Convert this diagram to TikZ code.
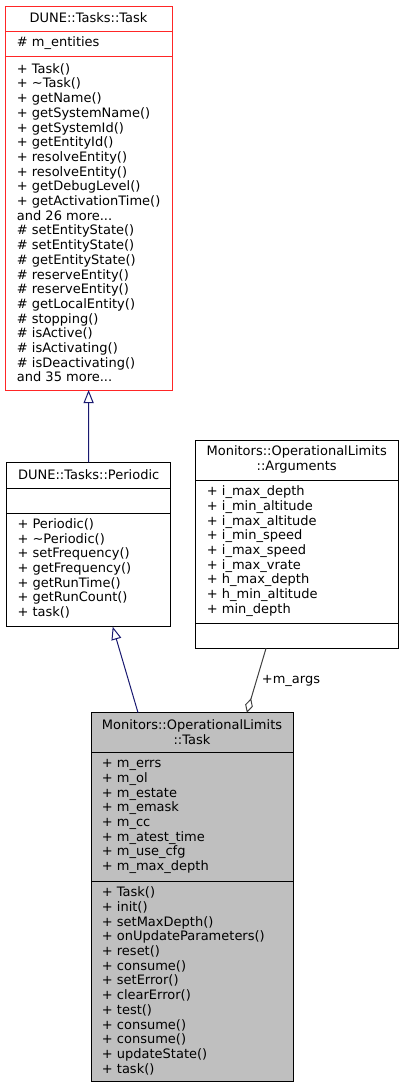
\documentclass[tikz,border=0pt]{standalone}
\usepackage{fontspec}
\setmainfont{DejaVu Sans}
\usepackage{xcolor}
\usetikzlibrary{arrows.meta}
\definecolor{edgeblue}{HTML}{191970}
\definecolor{edgegray}{HTML}{404040}
\definecolor{boxgray}{HTML}{BFBFBF}
\newcommand{\umlfont}{\fontsize{13}{14.7}\selectfont}
\tikzset{
  classbox/.style={rectangle, draw=black, line width=1pt, anchor=north west,
    inner sep=0pt, outer sep=0pt},
  basebox/.style={classbox, draw=red!85!white},
  thisbox/.style={classbox, fill=boxgray},
  sepline/.style={line width=1pt},
  title/.style={align=center, inner sep=0pt, font=\umlfont},
  members/.style={align=left, anchor=west, inner sep=0pt, font=\umlfont},
  edgelabel/.style={inner sep=0pt, text=black, font=\umlfont},
  inherit/.style={-{Triangle[open, length=13pt, width=10pt]}, edgeblue, line width=1pt},
  usage/.style={{Diamond[open, length=15pt, width=8pt]}-, edgegray, line width=1pt}
}

\begin{document}
\begin{tikzpicture}[x=1pt, y=-1pt]
  \useasboundingbox (0,0) rectangle (403,1088);

  % class boxes
  \node[basebox, minimum width=167, minimum height=384] (dunetask) at (5,6) {};
  \node[classbox, minimum width=164, minimum height=164.4] (periodic) at (6.7,462.3) {};
  \node[classbox, minimum width=203.3, minimum height=207.6] (args) at (195,440.7) {};
  \node[thisbox, minimum width=202.3, minimum height=369] (optask) at (91,712.7) {};

  \draw[sepline, red!85!white] (5,31) -- (172,31);
  \draw[sepline, red!85!white] (5,56.7) -- (172,56.7);
  \draw[sepline] (6.7,488.3) -- (170.7,488.3);
  \draw[sepline] (6.7,513.3) -- (170.7,513.3);
  \draw[sepline] (195,480.7) -- (398.3,480.7);
  \draw[sepline] (195,623.3) -- (398.3,623.3);
  \draw[sepline] (91,752.3) -- (293.3,752.3);
  \draw[sepline] (91,881.5) -- (293.3,881.5);

  % DUNE::Tasks::Task
  \node[title] (dunetitle) at (88.5,18) {DUNE::Tasks::Task};
  \node[members] (duneattr) at (16.7,43.5) {\# m\_entities};
  \node[members] (duneops) at (16.7,222.7) {+ Task()\\ + \textasciitilde Task()\\ + getName()\\
    + getSystemName()\\ + getSystemId()\\ + getEntityId()\\ + resolveEntity()\\
    + resolveEntity()\\ + getDebugLevel()\\ + getActivationTime()\\ and 26 more...\\
    \# setEntityState()\\ \# setEntityState()\\ \# getEntityState()\\ \# reserveEntity()\\
    \# reserveEntity()\\ \# getLocalEntity()\\ \# stopping()\\ \# isActive()\\
    \# isActivating()\\ \# isDeactivating()\\ and 35 more...};

  % DUNE::Tasks::Periodic
  \node[title] (pertitle) at (88.7,475) {DUNE::Tasks::Periodic};
  \node[members] (perops) at (17.3,568.4) {+ Periodic()\\ + \textasciitilde Periodic()\\
    + setFrequency()\\ + getFrequency()\\ + getRunTime()\\ + getRunCount()\\ + task()};

  % Monitors::OperationalLimits::Arguments
  \node[title] (argtitle) at (296.7,459.5) {Monitors::OperationalLimits\\::Arguments};
  \node[members] (argattr) at (206.7,551.1) {+ i\_max\_depth\\ + i\_min\_altitude\\
    + i\_max\_altitude\\ + i\_min\_speed\\ + i\_max\_speed\\ + i\_max\_vrate\\
    + h\_max\_depth\\ + h\_min\_altitude\\ + min\_depth};

  % Monitors::OperationalLimits::Task
  \node[title] (optitle) at (192,732) {Monitors::OperationalLimits\\::Task};
  \node[members] (opattr) at (101.7,816.5) {+ m\_errs\\ + m\_ol\\ + m\_estate\\ + m\_emask\\
    + m\_cc\\ + m\_atest\_time\\ + m\_use\_cfg\\ + m\_max\_depth};
  \node[members] (opops) at (101.7,980.9) {+ Task()\\ + init()\\ + setMaxDepth()\\
    + onUpdateParameters()\\ + reset()\\ + consume()\\ + setError()\\ + clearError()\\
    + test()\\ + consume()\\ + consume()\\ + updateState()\\ + task()};

  % relations
  \draw[inherit] (periodic) -- (dunetask);
  \draw[inherit] (optask) -- (periodic);
  \draw[usage] (optask) -- node[edgelabel, right=5pt] (margs) {+m\_args} (args);
\end{tikzpicture}
\end{document}
